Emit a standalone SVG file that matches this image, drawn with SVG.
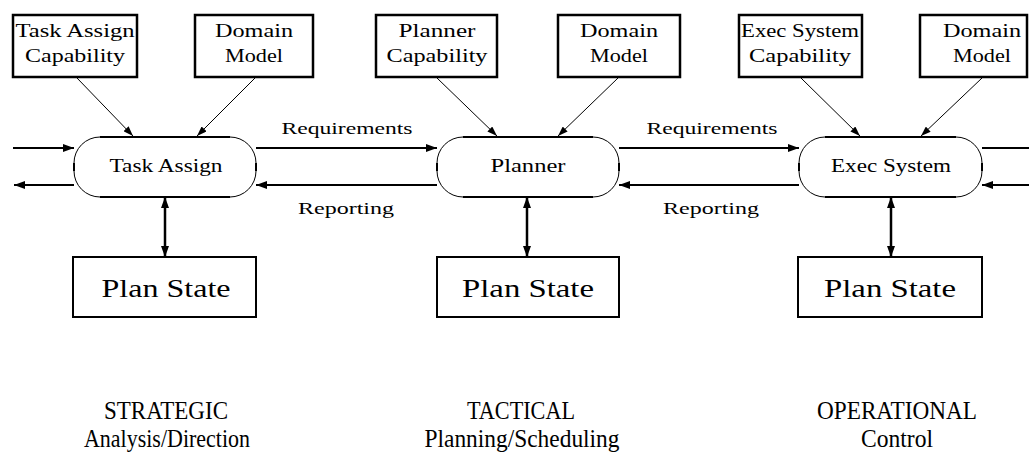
<svg xmlns="http://www.w3.org/2000/svg" width="1029" height="454" viewBox="0 0 1029 454" font-family="'Liberation Serif', 'DejaVu Serif', serif">
<style>
text{fill:#000;text-anchor:middle}
.bx{font-size:18px}
.nd{font-size:18px}
.lb{font-size:16px}
.ps{font-size:25px}
.bt{font-size:26px}
.cap{fill:#fff;stroke:#000;stroke-width:2.5}
.psb{fill:#fff;stroke:#000;stroke-width:2}
.ov{fill:#fff;stroke:#000;stroke-width:1}
.ovt{stroke:#000;stroke-width:2;fill:none}
.thk{stroke:#000;stroke-width:2;fill:none}
.thn{stroke:#000;stroke-width:1;fill:none}
.dbl{stroke:#000;stroke-width:2.5;fill:none}
</style>
<defs>
<marker id="ah" markerUnits="userSpaceOnUse" markerWidth="11" markerHeight="8" refX="11" refY="4" orient="auto-start-reverse"><path d="M0,0 L11,4 L0,8 z" fill="#000"/></marker>
<marker id="as" markerUnits="userSpaceOnUse" markerWidth="10" markerHeight="7" refX="10" refY="3.5" orient="auto"><path d="M0,0 L10,3.5 L0,7 z" fill="#000"/></marker>
</defs>
<rect width="1029" height="454" fill="#fff"/>

<g id="connectors">
<line class="thk" x1="13" y1="148" x2="74" y2="148" marker-end="url(#ah)"/>
<line class="thk" x1="74" y1="185" x2="14" y2="185" marker-end="url(#ah)"/>
<line class="thk" x1="256" y1="148" x2="437" y2="148" marker-end="url(#ah)"/>
<line class="thk" x1="437" y1="185" x2="256" y2="185" marker-end="url(#ah)"/>
<line class="thk" x1="619" y1="148" x2="799" y2="148" marker-end="url(#ah)"/>
<line class="thk" x1="799" y1="185" x2="619" y2="185" marker-end="url(#ah)"/>
<line class="thk" x1="982" y1="148" x2="1029" y2="148"/>
<line class="thk" x1="1029" y1="185" x2="982" y2="185" marker-end="url(#ah)"/>

<line class="thn" x1="77" y1="78" x2="133" y2="136" marker-end="url(#as)"/>
<line class="thn" x1="255" y1="78" x2="197" y2="136" marker-end="url(#as)"/>
<line class="thn" x1="437" y1="78" x2="497" y2="136" marker-end="url(#as)"/>
<line class="thn" x1="618" y1="78" x2="558" y2="136" marker-end="url(#as)"/>
<line class="thn" x1="801" y1="78" x2="860" y2="136" marker-end="url(#as)"/>
<line class="thn" x1="982" y1="78" x2="921" y2="136" marker-end="url(#as)"/>

<line class="dbl" x1="165" y1="197" x2="165" y2="257" marker-start="url(#ah)" marker-end="url(#ah)"/>
<line class="dbl" x1="527" y1="197" x2="527" y2="257" marker-start="url(#ah)" marker-end="url(#ah)"/>
<line class="dbl" x1="891" y1="197" x2="891" y2="257" marker-start="url(#ah)" marker-end="url(#ah)"/>
</g>

<g id="labels">
<text class="lb" x="347" y="134" textLength="131" lengthAdjust="spacingAndGlyphs">Requirements</text>
<text class="lb" x="712" y="134" textLength="131" lengthAdjust="spacingAndGlyphs">Requirements</text>
<text class="lb" x="346" y="214" textLength="96" lengthAdjust="spacingAndGlyphs">Reporting</text>
<text class="lb" x="711" y="214" textLength="96" lengthAdjust="spacingAndGlyphs">Reporting</text>
</g>

<g id="cap1">
<rect class="cap" x="13" y="15" width="124" height="62"/>
<text class="bx" x="75" y="37" textLength="119" lengthAdjust="spacingAndGlyphs">Task Assign</text>
<text class="bx" x="75" y="62" textLength="100" lengthAdjust="spacingAndGlyphs">Capability</text>
</g>
<g id="dom1">
<rect class="cap" x="195" y="15" width="118" height="62"/>
<text class="bx" x="254" y="37" textLength="78" lengthAdjust="spacingAndGlyphs">Domain</text>
<text class="bx" x="254" y="62" textLength="58" lengthAdjust="spacingAndGlyphs">Model</text>
</g>
<g id="cap2">
<rect class="cap" x="376" y="15" width="121" height="62"/>
<text class="bx" x="437" y="37" textLength="77" lengthAdjust="spacingAndGlyphs">Planner</text>
<text class="bx" x="437" y="62" textLength="101" lengthAdjust="spacingAndGlyphs">Capability</text>
</g>
<g id="dom2">
<rect class="cap" x="558" y="15" width="122" height="62"/>
<text class="bx" x="619" y="37" textLength="78" lengthAdjust="spacingAndGlyphs">Domain</text>
<text class="bx" x="619" y="62" textLength="58" lengthAdjust="spacingAndGlyphs">Model</text>
</g>
<g id="cap3">
<rect class="cap" x="739" y="15" width="123" height="62"/>
<text class="bx" x="800" y="37" textLength="118" lengthAdjust="spacingAndGlyphs">Exec System</text>
<text class="bx" x="800" y="62" textLength="102" lengthAdjust="spacingAndGlyphs">Capability</text>
</g>
<g id="dom3">
<rect class="cap" x="920" y="15" width="107" height="62"/>
<text class="bx" x="982" y="37" textLength="78" lengthAdjust="spacingAndGlyphs">Domain</text>
<text class="bx" x="982" y="62" textLength="58" lengthAdjust="spacingAndGlyphs">Model</text>
</g>

<g id="taskassign">
<path class="ov" d="M100,137 H230 A26,26 0 0 1 256,163 V171 A26,26 0 0 1 230,197 H100 A26,26 0 0 1 74,171 V163 A26,26 0 0 1 100,137 Z"/>
<path class="ovt" d="M100,137 H230 M100,197 H230 M74,163 V171 M256,163 V171"/>
<text class="nd" x="166" y="172" textLength="113" lengthAdjust="spacingAndGlyphs">Task Assign</text>
</g>
<g id="planner">
<path class="ov" d="M463,137 H593 A26,26 0 0 1 619,163 V171 A26,26 0 0 1 593,197 H463 A26,26 0 0 1 437,171 V163 A26,26 0 0 1 463,137 Z"/>
<path class="ovt" d="M463,137 H593 M463,197 H593 M437,163 V171 M619,163 V171"/>
<text class="nd" x="528" y="172" textLength="75" lengthAdjust="spacingAndGlyphs">Planner</text>
</g>
<g id="execsystem">
<path class="ov" d="M825,137 H956 A26,26 0 0 1 982,163 V171 A26,26 0 0 1 956,197 H825 A26,26 0 0 1 799,171 V163 A26,26 0 0 1 825,137 Z"/>
<path class="ovt" d="M825,137 H956 M825,197 H956 M799,163 V171 M982,163 V171"/>
<text class="nd" x="891" y="172" textLength="120" lengthAdjust="spacingAndGlyphs">Exec System</text>
</g>

<g id="state1">
<rect class="psb" x="73" y="257" width="183" height="60"/>
<text class="ps" x="166" y="297" textLength="129" lengthAdjust="spacingAndGlyphs">Plan State</text>
</g>
<g id="state2">
<rect class="psb" x="437" y="257" width="182" height="60"/>
<text class="ps" x="528" y="297" textLength="132" lengthAdjust="spacingAndGlyphs">Plan State</text>
</g>
<g id="state3">
<rect class="psb" x="798" y="257" width="184" height="60"/>
<text class="ps" x="890" y="297" textLength="132" lengthAdjust="spacingAndGlyphs">Plan State</text>
</g>

<g id="levels">
<text class="bt" x="166" y="419" textLength="124" lengthAdjust="spacingAndGlyphs">STRATEGIC</text>
<text class="bt" x="167" y="447" textLength="166" lengthAdjust="spacingAndGlyphs">Analysis/Direction</text>
<text class="bt" x="521" y="419" textLength="108" lengthAdjust="spacingAndGlyphs">TACTICAL</text>
<text class="bt" x="522" y="447" textLength="195" lengthAdjust="spacingAndGlyphs">Planning/Scheduling</text>
<text class="bt" x="897" y="419" textLength="160" lengthAdjust="spacingAndGlyphs">OPERATIONAL</text>
<text class="bt" x="897" y="447" textLength="72" lengthAdjust="spacingAndGlyphs">Control</text>
</g>
</svg>
